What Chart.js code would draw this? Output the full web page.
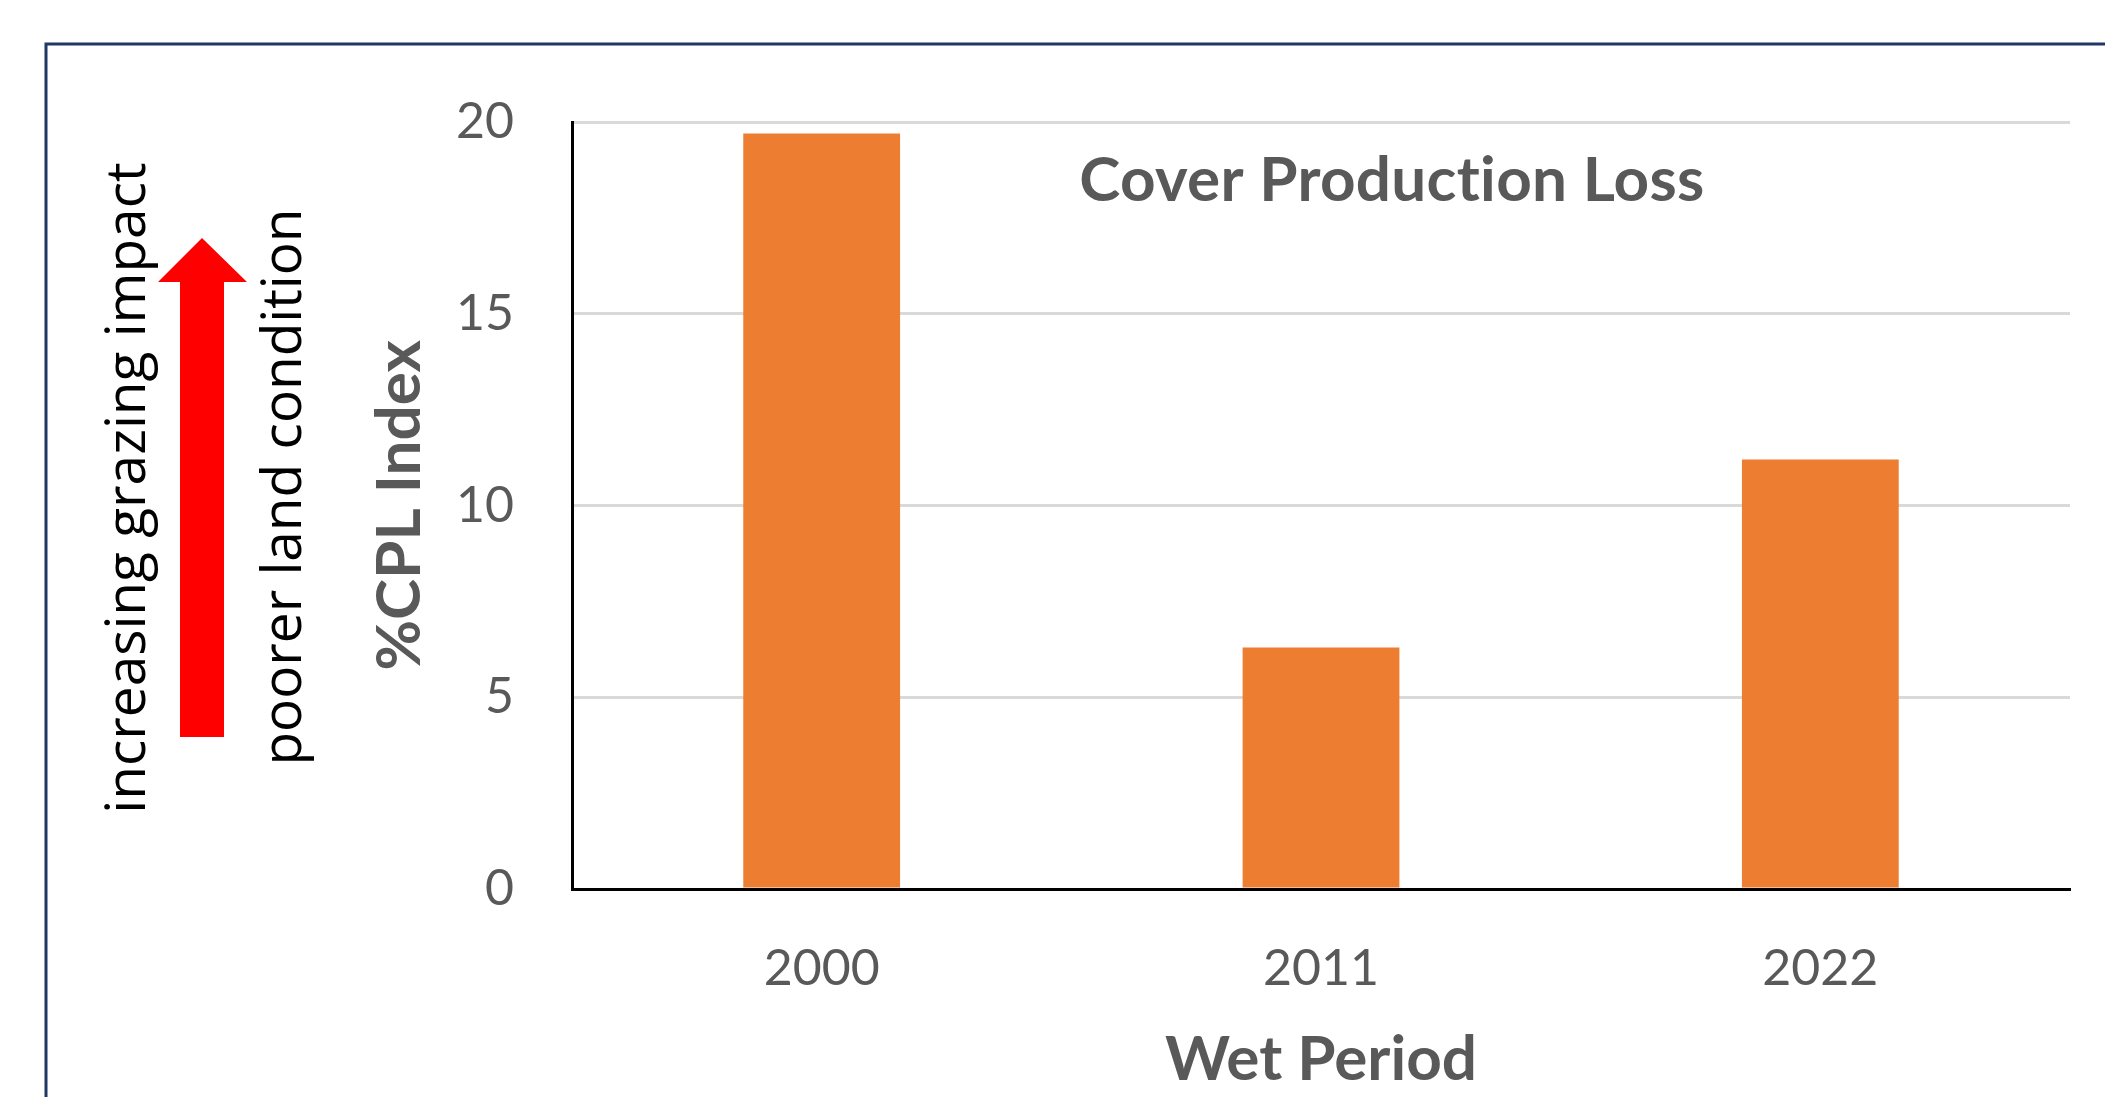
<!DOCTYPE html>
<html>
<head>
<meta charset="utf-8">
<script src="https://cdn.jsdelivr.net/npm/chart.js@4.4.1/dist/chart.umd.min.js"></script>
<style>
  html, body { margin: 0; padding: 0; background: #fff; overflow: hidden; }
</style>
</head>
<body>
<canvas id="cplChart" width="2105" height="1097"></canvas>
<script>
// data
const periods = ['2000', '2011', '2022'];
const cplValues = [19.7, 6.3, 11.2];
const yTickValues = [0, 5, 10, 15, 20];

const chartTitle = 'Cover Production Loss';
const xTitle = 'Wet Period';
const yTitle = '%CPL Index';
const noteLeft = 'increasing grazing impact';
const noteRight = 'poorer land condition';

const grey = '#595959';

// frame, arrow, side notes and the in-plot title
const decorations = {
    id: 'decorations',
    beforeDraw(chart) {
        const ctx = chart.ctx;
        ctx.save();
        ctx.strokeStyle = '#1f3864';
        ctx.lineWidth = 3;
        ctx.strokeRect(46, 44, 2300, 1300);
        ctx.restore();
    },
    afterDraw(chart) {
        const ctx = chart.ctx;
        ctx.save();
        ctx.font = 'bold 62px Lato';
        ctx.fillStyle = grey;
        ctx.textAlign = 'center';
        ctx.textBaseline = 'alphabetic';
        // a tiny letter spacing keeps Lato from joining "ti"
        ctx.letterSpacing = '0.3px';
        ctx.fillText(chartTitle, 1392, 201);
        ctx.letterSpacing = '0px';

        // red up arrow
        ctx.fillStyle = '#ff0000';
        ctx.beginPath();
        ctx.moveTo(180, 737);
        ctx.lineTo(180, 282);
        ctx.lineTo(158, 282);
        ctx.lineTo(202, 238);
        ctx.lineTo(247, 282);
        ctx.lineTo(224, 282);
        ctx.lineTo(224, 737);
        ctx.closePath();
        ctx.fill();

        ctx.fillStyle = '#000';
        ctx.font = '55px "Open Sans"';
        ctx.textAlign = 'center';
        ctx.textBaseline = 'alphabetic';
        ctx.save();
        ctx.translate(145, 488);
        ctx.rotate(-Math.PI / 2);
        ctx.fillText(noteLeft, 0, 0);
        ctx.restore();
        ctx.save();
        ctx.translate(301, 487);
        ctx.rotate(-Math.PI / 2);
        ctx.fillText(noteRight, 0, 0);
        ctx.restore();
        ctx.restore();
    }
};

const ctx = document.getElementById('cplChart');

new Chart(ctx, {
    type: 'bar',
    data: {
        labels: periods,
        datasets: [{
            label: chartTitle,
            data: cplValues,
            backgroundColor: '#ed7d31',
            borderWidth: 0,
            categoryPercentage: 1.0,
            barPercentage: 0.314
        }]
    },
    options: {
        responsive: false,
        animation: false,
        layout: {
            padding: { left: 363, top: 122, right: 35, bottom: 0 }
        },
        plugins: {
            legend: { display: false },
            tooltip: { enabled: false },
            title: { display: false }
        },
        scales: {
            x: {
                afterFit: (scale) => { scale.height = 208; },
                grid: { display: false, drawTicks: false },
                border: { display: true, color: '#000', width: 3 },
                ticks: {
                    color: grey,
                    padding: 50,
                    font: { family: 'Lato', size: 50 }
                },
                title: {
                    display: true,
                    text: xTitle,
                    color: grey,
                    padding: 0,
                    font: { family: 'Lato', size: 62, weight: 'bold' }
                }
            },
            y: {
                min: 0,
                max: 20,
                afterFit: (scale) => { scale.width = 209; },
                afterBuildTicks: (scale) => {
                    scale.ticks = yTickValues.map(v => ({ value: v }));
                },
                grid: {
                    drawTicks: false,
                    lineWidth: 3,
                    color: (c) => c.tick && c.tick.value === 0 ? 'rgba(0,0,0,0)' : '#d9d9d9'
                },
                border: { display: true, color: '#000', width: 3 },
                ticks: {
                    color: grey,
                    padding: 58,
                    font: { family: 'Lato', size: 50 }
                },
                title: {
                    display: true,
                    text: yTitle,
                    color: grey,
                    padding: 0,
                    font: { family: 'Lato', size: 62, weight: 'bold' }
                }
            }
        }
    },
    plugins: [decorations]
});
</script>
</body>
</html>
